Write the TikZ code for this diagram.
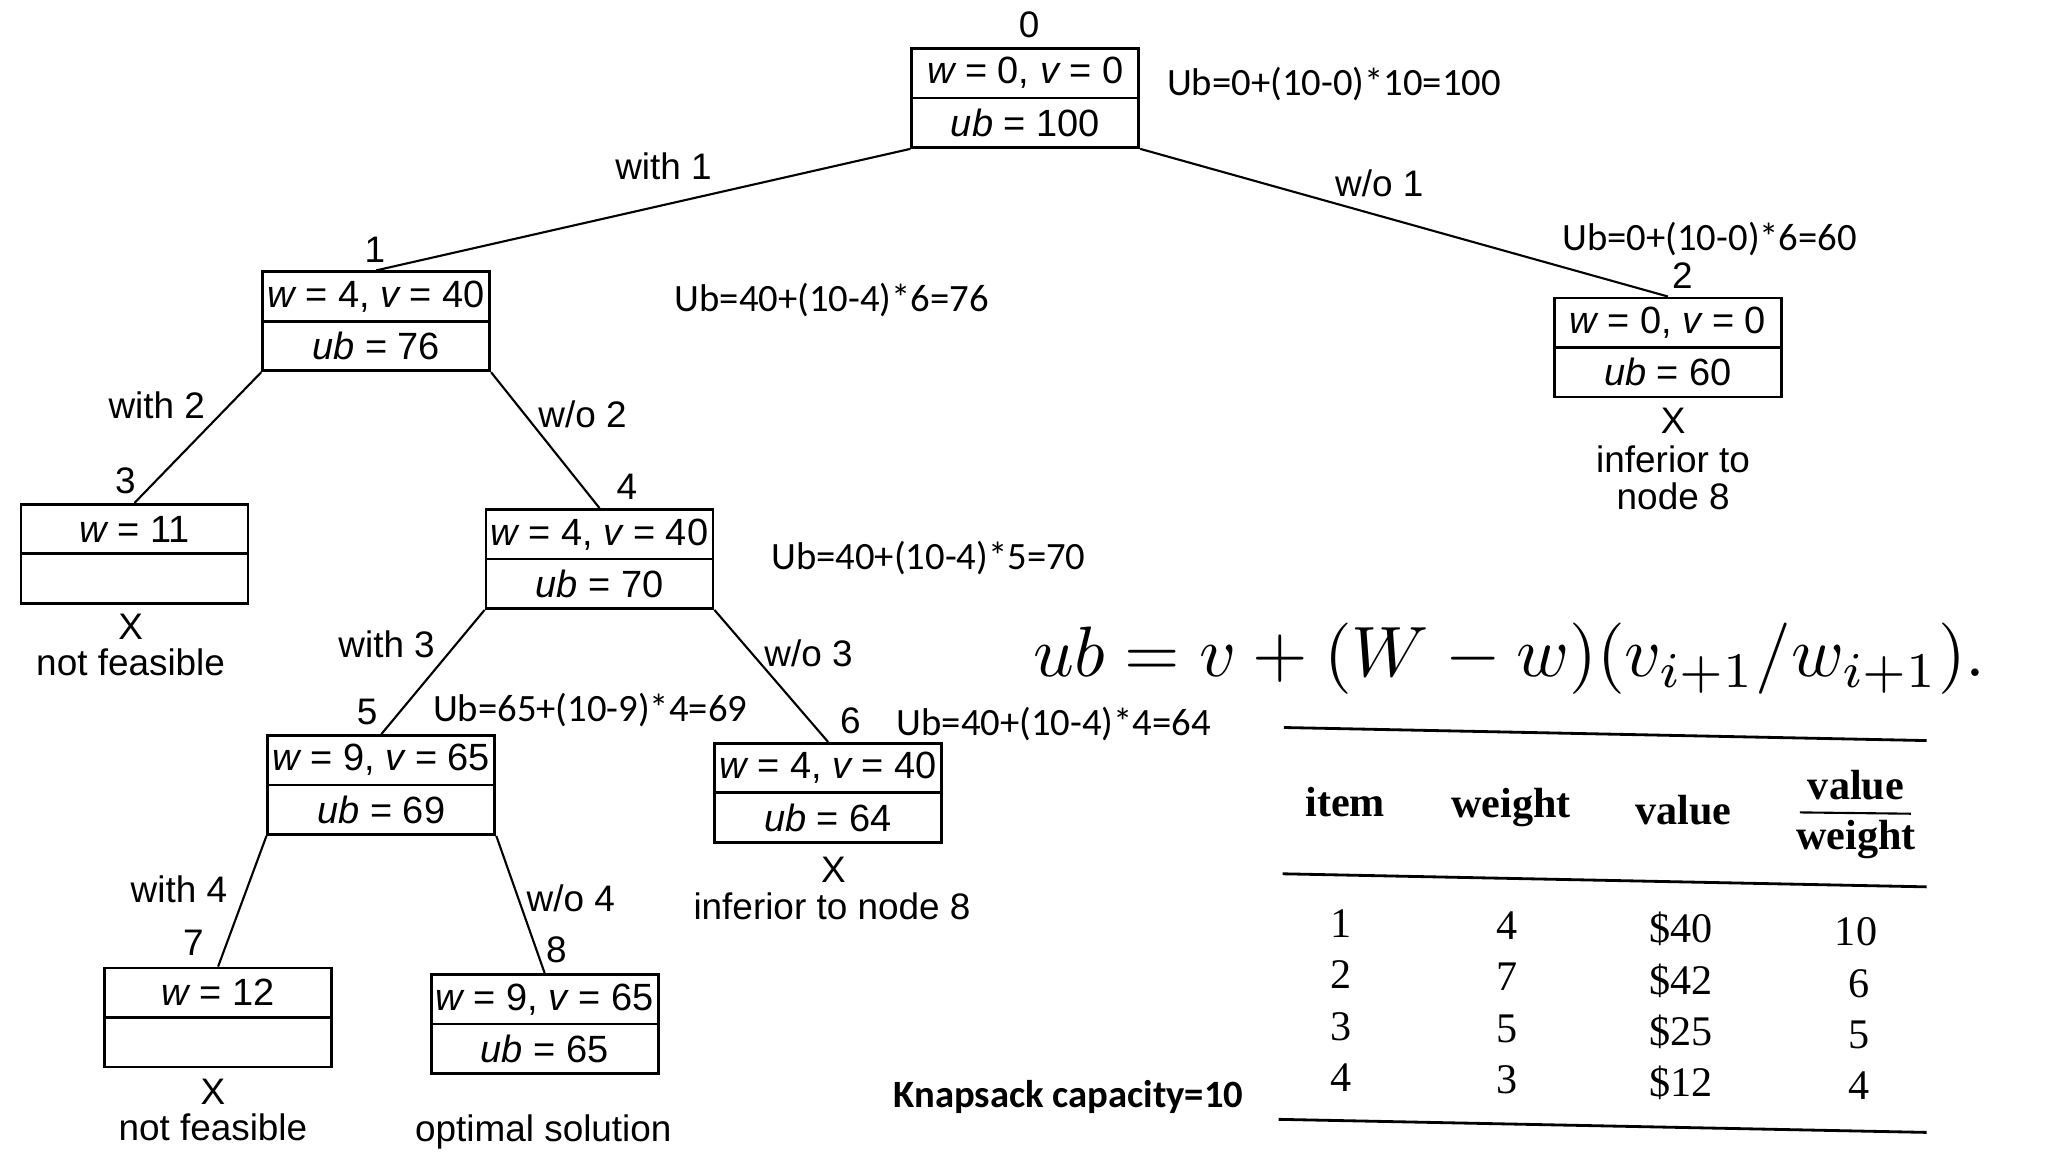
\documentclass[tikz,border=0pt]{standalone}
\usepackage{fontspec}
\setmainfont{Liberation Sans}
\newfontfamily\ubfont{Carlito}
\newfontfamily\tabfont{Liberation Serif}
\usetikzlibrary{calc}
\tikzset{
  kbox/.style={draw, line width=0.8pt, minimum width=2.27cm, minimum height=0.99cm, inner sep=0pt},
  boxline/.style={line width=0.8pt},
  ntext/.style={font=\fontsize{10.8}{13}\selectfont, inner sep=0pt},
  tlabel/.style={font=\fontsize{10.5}{12}\selectfont, inner sep=0pt},
  ublabel/.style={font=\ubfont\fontsize{11}{13}\selectfont, inner sep=0pt},
  edge/.style={line width=0.6pt},
  tab/.style={font=\tabfont\fontsize{12}{14}\selectfont, inner sep=0pt},
  tabh/.style={font=\tabfont\bfseries\fontsize{12}{14}\selectfont, inner sep=0pt},
  rule/.style={line width=0.8pt}
}
\newcommand{\kbox}[4]{%
  \node[kbox] (#1) at (#2) {};
  \draw[boxline] (#1.west) -- (#1.east);
  \node[ntext] (#1t) at ($(#1.center)+(0,-19)$) {#3};
  \node[ntext] (#1b) at ($(#1.center)+(0,19)$) {#4};
}
\begin{document}
\begin{tikzpicture}[x=0.01306cm, y=-0.01306cm]
\path[use as bounding box] (0,0) rectangle (1568,882);

% tree boxes
\kbox{n0}{785,75}{{\itshape w} = 0, {\itshape v} = 0}{{\itshape ub} = 100}
\kbox{n1}{288,246}{{\itshape w} = 4, {\itshape v} = 40}{{\itshape ub} = 76}
\kbox{n2}{1277,266}{{\itshape w} = 0, {\itshape v} = 0}{{\itshape ub} = 60}
\kbox{n3}{103,424}{{\itshape w} = 11}{}
\kbox{n4}{459,428}{{\itshape w} = 4, {\itshape v} = 40}{{\itshape ub} = 70}
\kbox{n5}{292,601}{{\itshape w} = 9, {\itshape v} = 65}{{\itshape ub} = 69}
\kbox{n6}{634,607}{{\itshape w} = 4, {\itshape v} = 40}{{\itshape ub} = 64}
\kbox{n7}{167,779}{{\itshape w} = 12}{}
\kbox{n8}{417,784}{{\itshape w} = 9, {\itshape v} = 65}{{\itshape ub} = 65}

% node numbers
\node[tlabel] (l0) at (788,19) {0};
\node[tlabel] (l1) at (287,191) {1};
\node[tlabel] (l2) at (1288,211) {2};
\node[tlabel] (l3) at (96,368) {3};
\node[tlabel] (l4) at (480,373) {4};
\node[tlabel] (l5) at (281,545) {5};
\node[tlabel] (l6) at (651,552) {6};
\node[tlabel] (l7) at (148,722) {7};
\node[tlabel] (l8) at (426,727) {8};

% edges
\draw[edge] (n0.south west) -- (n1.north);
\draw[edge] (n0.south east) -- (n2.north);
\draw[edge] (n1.south west) -- (n3.north);
\draw[edge] (n1.south east) -- (n4.north);
\draw[edge] (n4.south west) -- (n5.north);
\draw[edge] (n4.south east) -- (n6.north);
\draw[edge] (n5.south west) -- (n7.north);
\draw[edge] (n5.south east) -- (n8.north);

% edge labels
\node[tlabel] (e1) at (508,127) {with 1};
\node[tlabel] (e2) at (1056,140) {w/o 1};
\node[tlabel] (e3) at (120,310) {with 2};
\node[tlabel] (e4) at (446,317) {w/o 2};
\node[tlabel] (e5) at (296,493) {with 3};
\node[tlabel] (e6) at (619,500) {w/o 3};
\node[tlabel] (e7) at (137,681) {with 4};
\node[tlabel] (e8) at (437,688) {w/o 4};

% Ub computations
\node[ublabel, anchor=west] (u0) at (893,64) {Ub=0+(10-0)*10=100};
\node[ublabel] (u2) at (1309,183) {Ub=0+(10-0)*6=60};
\node[ublabel, anchor=west] (u1) at (516,230) {Ub=40+(10-4)*6=76};
\node[ublabel, anchor=west] (u4) at (590,427) {Ub=40+(10-4)*5=70};
\node[ublabel, anchor=west] (u5) at (331,544) {Ub=65+(10-9)*4=69};
\node[ublabel, anchor=west] (u6) at (686,554) {Ub=40+(10-4)*4=64};

% notes
\node[tlabel] (x2) at (1281,322) {X};
\node[tlabel] (t2a) at (1281,352) {inferior to};
\node[tlabel] (t2b) at (1281,380) {node 8};
\node[tlabel] (x3) at (100,480) {X};
\node[tlabel] (t3) at (100,507) {not feasible};
\node[tlabel] (x6) at (638,666) {X};
\node[tlabel] (t6) at (637,694) {inferior to node 8};
\node[tlabel] (x7) at (163,836) {X};
\node[tlabel] (t7) at (163,863) {not feasible};
\node[tlabel] (t8) at (416,867) {optimal solution};

% formula
\node[scale=2.03, anchor=base west, inner sep=0pt] (fm) at (790,518)
  {$ub = v + (W - w)(v_{i+1}/w_{i+1}).$};

% table
\draw[rule] (983,557) -- (1475,567);
\draw[rule] (982,669) -- (1475,679);
\draw[rule] (979,857) -- (1475,867);
\node[tabh] (h1) at (1030,614) {item};
\node[tabh] (h2) at (1157,618) {weight};
\node[tabh] (h3) at (1289,620) {value};
\node[tabh] (h4a) at (1421,601) {value};
\node[tabh] (h4b) at (1421,643) {weight};
\draw[line width=0.6pt] (1378,622) -- (1463,623);

\node[tab] (r11) at (1027,707) {1};
\node[tab] (r21) at (1027,746) {2};
\node[tab] (r31) at (1027,786) {3};
\node[tab] (r41) at (1027,825) {4};
\node[tab] (r12) at (1154,709) {4};
\node[tab] (r22) at (1154,748) {7};
\node[tab] (r32) at (1154,788) {5};
\node[tab] (r42) at (1154,827) {3};
\node[tab] (r13) at (1287,711) {\$40};
\node[tab] (r23) at (1287,751) {\$42};
\node[tab] (r33) at (1287,790) {\$25};
\node[tab] (r43) at (1287,829) {\$12};
\node[tab] (r14) at (1421,713) {10};
\node[tab] (r24) at (1423,753) {6};
\node[tab] (r34) at (1423,792) {5};
\node[tab] (r44) at (1423,831) {4};

\node[ublabel, font=\ubfont\bfseries\fontsize{11}{13}\selectfont] (cap) at (818,840) {Knapsack capacity=10};
\end{tikzpicture}
\end{document}
